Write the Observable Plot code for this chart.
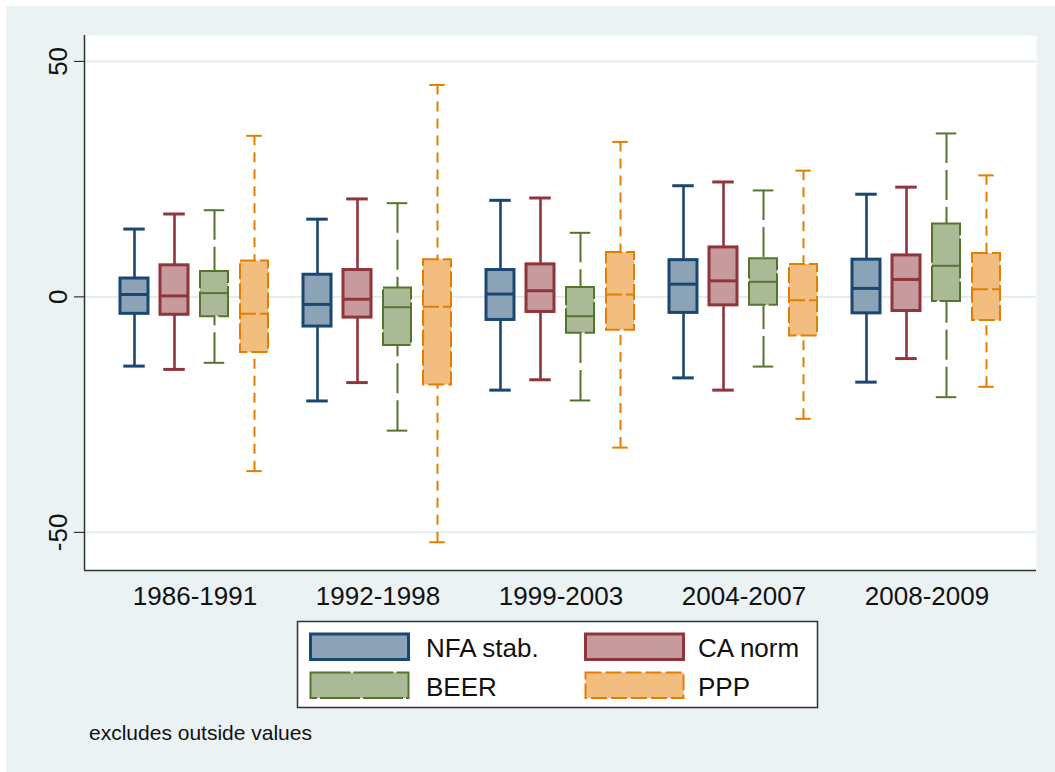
<!DOCTYPE html>
<html>
<head>
<meta charset="utf-8">
<script src="https://cdn.jsdelivr.net/npm/d3@7"></script>
<script src="https://cdn.jsdelivr.net/npm/@observablehq/plot@0.6"></script>
<style>
  body { margin: 0; background: #fff; }
  #page { position: relative; width: 1055px; height: 772px; overflow: hidden; background: #fff; font-family: Arial, "Liberation Sans", sans-serif; }
  #bg { position: absolute; left: 6px; top: 6px; right: 0; bottom: 0; background: #eaf2f3; }
  .layer { position: absolute; left: 0; top: 0; }
  #caption { position: absolute; left: 89px; top: 721px; font-size: 21px; color: #111; white-space: nowrap; }
</style>
</head>
<body>
<div id="page">
  <div id="bg"></div>
  <div id="base" class="layer"></div>
  <div id="boxes" class="layer"></div>
  <div id="legend" class="layer"></div>
  <div id="caption">excludes outside values</div>
</div>
<script>
// ---- data ----
const periods = ["1986-1991", "1992-1998", "1999-2003", "2004-2007", "2008-2009"];
const seriesNames = ["NFA stab.", "CA norm", "BEER", "PPP"];
// each row: [lower whisker, q1, median, q3, upper whisker] per period
const nfaStab = [
  [-14.7, -3.6, 0.5, 3.9, 14.4],
  [-22.1, -6.3, -1.6, 4.7, 16.5],
  [-19.8, -4.9, 0.6, 5.7, 20.5],
  [-17.2, -3.4, 2.7, 7.8, 23.6],
  [-18.1, -3.5, 1.8, 7.9, 21.8]
];
const caNorm = [
  [-15.4, -3.8, 0.2, 6.7, 17.6],
  [-18.2, -4.4, -0.5, 5.7, 20.8],
  [-17.6, -3.2, 1.3, 6.9, 21.0],
  [-19.8, -1.8, 3.4, 10.5, 24.4],
  [-13.1, -3.0, 3.7, 8.8, 23.3]
];
const beer = [
  [-14.0, -4.2, 0.8, 5.4, 18.4],
  [-28.4, -10.3, -2.2, 1.9, 19.9],
  [-22.0, -7.7, -4.1, 2.0, 13.6],
  [-14.8, -1.8, 3.2, 8.1, 22.6],
  [-21.3, -1.0, 6.6, 15.5, 34.7]
];
const ppp = [
  [-37.0, -11.8, -3.6, 7.6, 34.2],
  [-52.1, -18.7, -2.1, 7.9, 45.0],
  [-32.0, -7.1, 0.5, 9.4, 32.9],
  [-25.9, -8.3, -0.7, 6.9, 26.8],
  [-19.1, -5.0, 1.6, 9.2, 25.8]
];
const yTicks = [-50, 0, 50];
const yDomain = [-58.1, 55.5];
const captionText = "excludes outside values";

// ---- styles ----
const styles = [
  {stroke: "#1a476f", fill: "#8ca3b7", sw: 3, wsw: 2.6, dash: null, boxDash: null, cap: 22},
  {stroke: "#90353b", fill: "#c79a9d", sw: 3, wsw: 2.6, dash: null, boxDash: null, cap: 22},
  {stroke: "#55752f", fill: "#aaba97", sw: 2, wsw: 2, dash: "30,7", boxDash: "40,3", cap: 21},
  {stroke: "#e37e00", fill: "#f1be7f", sw: 2, wsw: 2, dash: "10,7", boxDash: "16,4", cap: 16}
];

const stats = [nfaStab, caNorm, beer, ppp];
const rows = [];
periods.forEach((p, i) => seriesNames.forEach((s, j) => {
  const v = stats[j][i];
  rows.push({period: p, series: s, lo: v[0], q1: v[1], med: v[2], q3: v[3], hi: v[4]});
}));

const W = 1055, H = 620;
const margins = {marginLeft: 84, marginRight: 19, marginTop: 35, marginBottom: 50};
const font = 'Arial, "Liberation Sans", sans-serif';

// ---- base layer: plot area, grid, y axis ----
const base = Plot.plot({
  width: W, height: H, ...margins,
  style: {background: "transparent", fontFamily: font, fontSize: "26px", color: "#111"},
  x: {domain: [0, 1], axis: null},
  y: {domain: yDomain, ticks: yTicks, tickSize: 10, tickPadding: 8, tickRotate: -90, label: null, tickFormat: d => String(d)},
  marks: [
    Plot.frame({fill: "white", stroke: null}),
    Plot.ruleY(yTicks, {stroke: "#e3ecef", strokeWidth: 2}),
    Plot.ruleX([0], {stroke: "#333", strokeWidth: 1.5}),
    Plot.ruleY([yDomain[0]], {stroke: "#333", strokeWidth: 1.5})
  ]
});
document.getElementById("base").appendChild(base);

// ---- box layer ----
const boxBand = 28.5;
const marks = [];
seriesNames.forEach((name, j) => {
  const st = styles[j];
  const d = rows.filter(r => r.series === name);
  const capInset = (boxBand - st.cap) / 2;
  const common = {fx: "period", x: "series", stroke: st.stroke};
  marks.push(
    Plot.ruleX(d, {...common, y1: "lo", y2: "q1", strokeWidth: st.wsw, strokeDasharray: st.dash}),
    Plot.ruleX(d, {...common, y1: "hi", y2: "q3", strokeWidth: st.wsw, strokeDasharray: st.dash}),
    Plot.tickY(d, {...common, y: "lo", strokeWidth: st.sw, insetLeft: capInset, insetRight: capInset}),
    Plot.tickY(d, {...common, y: "hi", strokeWidth: st.sw, insetLeft: capInset, insetRight: capInset}),
    Plot.barY(d, {...common, y1: "q1", y2: "q3", fill: st.fill, strokeWidth: st.sw, strokeDasharray: st.boxDash}),
    Plot.tickY(d, {...common, y: "med", strokeWidth: st.sw, strokeDasharray: st.boxDash})
  );
});

const boxes = Plot.plot({
  width: W, height: H, ...margins,
  style: {background: "transparent", fontFamily: font, fontSize: "26px", color: "#111"},
  fx: {domain: periods, paddingInner: 0, paddingOuter: 0.0969, axis: "bottom", tickSize: 0, tickPadding: 16, label: null},
  x: {domain: seriesNames, paddingInner: 0.296, paddingOuter: 0.411, axis: null},
  y: {domain: yDomain, axis: null},
  marks
});
document.getElementById("boxes").appendChild(boxes);

// ---- legend ----
const lg = d3.select("#legend").append("svg").attr("width", W).attr("height", 772)
  .style("display", "block").style("font-family", font);
lg.append("rect").attr("x", 297.5).attr("y", 621.5).attr("width", 520).attr("height", 86)
  .attr("fill", "white").attr("stroke", "#333").attr("stroke-width", 1.5);
const cols = [{sx: 310.5, tx: 426}, {sx: 585.5, tx: 698}];
const rowsY = [{sy: 634, ty: 657}, {sy: 672.5, ty: 696}];
seriesNames.forEach((name, j) => {
  const st = styles[j];
  const c = cols[j % 2], r = rowsY[Math.floor(j / 2)];
  lg.append("rect").attr("x", c.sx).attr("y", r.sy).attr("width", 98).attr("height", 25.5)
    .attr("fill", st.fill).attr("stroke", st.stroke).attr("stroke-width", st.sw)
    .attr("stroke-dasharray", st.boxDash);
  lg.append("text").attr("x", c.tx).attr("y", r.ty).attr("font-size", 26).attr("fill", "#111").text(name);
});
document.getElementById("caption").textContent = captionText;
</script>
</body>
</html>
